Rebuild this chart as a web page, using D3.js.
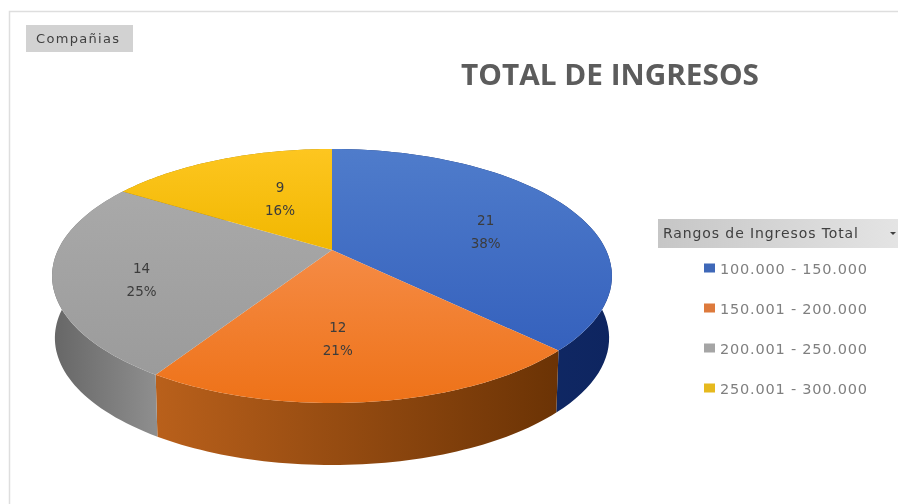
<!DOCTYPE html>
<html><head><meta charset="utf-8">
<script src="https://cdn.jsdelivr.net/npm/d3@7/dist/d3.min.js"></script>
<style>html,body{margin:0;background:#fff;overflow:hidden}svg{display:block;filter:blur(0.7px)}</style>
</head><body><div id="c"></div>
<script>
const categories=["100.000 - 150.000","150.001 - 200.000","200.001 - 250.000","250.001 - 300.000"];
const values=[21,12,14,9];
const percents=["38%","21%","25%","16%"];
const topLight=["#4f7ccb","#f58b45","#a9a9a9","#fdc620"];
const topDark=["#3561bd","#ee7218","#9b9b9b","#f1b700"];
const sideStops=[["#0e2560","#14306e"],["#b9601b","#6b3305"],["#666666","#8e8e8e"],["#a07a00","#a07a00"]];
const legendColors=["#3f68b8","#dd7a3c","#a5a5a5","#e6b91e"];
const title="TOTAL DE INGRESOS",filterLabel="Compañias",legendTitle="Rangos de Ingresos Total";

const W=898,H=504;
const svg=d3.select("#c").append("svg").attr("width",W).attr("height",H);
const defs=svg.append("defs");
svg.append("path").attr("d",`M9.5 ${H}V11.5H${W}`).attr("fill","none").attr("stroke","#dedede").attr("stroke-width",1.5);
const cx=332,cy=250,a=274,b=121.7,k=0.2047,depth=62;
function proj(t,r=1,drop=0){const u=r*Math.sin(t),v=-r*Math.cos(t),d=1-k*v;
  return [cx+a*u/d*(drop?0.99:1),cy+b*v/d+drop];}
const pie=d3.pie().sort(null).value(d=>d)(values);
const line=d3.line();
function arcPts(s,e,drop=0){return d3.range(0,61).map(i=>proj(s+(e-s)*i/60,1,drop));}
const g=svg.append("g");
pie.forEach((p,i)=>{
  const id="w"+i;
  const pts=arcPts(p.startAngle,p.endAngle);
  const lg=defs.append("linearGradient").attr("id",id).attr("gradientUnits","userSpaceOnUse")
    .attr("x1",d3.min(pts,d=>d[0])).attr("x2",d3.max(pts,d=>d[0])).attr("y1",0).attr("y2",0);
  const st=i===0?sideStops[0].slice().reverse():sideStops[i];
  lg.append("stop").attr("offset",0).attr("stop-color",st[0]);
  lg.append("stop").attr("offset",1).attr("stop-color",st[1]);
  g.append("path").attr("d",line(pts.concat(arcPts(p.endAngle,p.startAngle,depth)))+"Z").attr("fill",`url(#${id})`);
});
pie.forEach((p,i)=>{
  const id="t"+i;
  const pts=[[cx,cy]].concat(arcPts(p.startAngle,p.endAngle));
  const lg=defs.append("linearGradient").attr("id",id).attr("gradientUnits","userSpaceOnUse")
    .attr("x1",0).attr("x2",0).attr("y1",d3.min(pts,d=>d[1])).attr("y2",d3.max(pts,d=>d[1]));
  lg.append("stop").attr("offset",0).attr("stop-color",topLight[i]);
  lg.append("stop").attr("offset",1).attr("stop-color",topDark[i]);
  g.append("path").attr("d",line(pts)+"Z").attr("fill",`url(#${id})`);
});
const font="'DejaVu Sans',sans-serif";
// label anchor per slice: shift from the projected mid-angle point at 62% radius
const labelShift=[[4,10],[-16,3],[-20,13],[22,8]];
pie.forEach((p,i)=>{
  const m=(p.startAngle+p.endAngle)/2,[x0,y0]=proj(m,0.62),x=x0+labelShift[i][0],y=y0+labelShift[i][1];
  const t=g.append("text").attr("text-anchor","middle").attr("font-family",font).attr("font-size",13.5).attr("fill","#3c3c3c");
  t.append("tspan").attr("x",x).attr("y",y-7).text(p.value);
  t.append("tspan").attr("x",x).attr("y",y+16).text(percents[i]);
});
svg.append("rect").attr("x",26).attr("y",25).attr("width",107).attr("height",27).attr("fill","#d2d2d2");
svg.append("text").attr("x",36).attr("y",43).attr("font-family",font).attr("font-size",13).attr("fill","#404040").attr("textLength",83).text(filterLabel);
svg.append("text").attr("x",610).attr("y",85).attr("text-anchor","middle").attr("font-family","'Open Sans',sans-serif").attr("font-weight",700)
  .attr("font-size",28).attr("fill","#5c5c5c").attr("textLength",298).attr("lengthAdjust","spacingAndGlyphs").text(title);
const lgh=defs.append("linearGradient").attr("id","lh");
lgh.append("stop").attr("offset",0).attr("stop-color","#c6c6c6");
lgh.append("stop").attr("offset",1).attr("stop-color","#e4e4e4");
svg.append("rect").attr("x",658).attr("y",219).attr("width",240).attr("height",29).attr("fill","url(#lh)");
svg.append("text").attr("x",663).attr("y",238).attr("font-family",font).attr("font-size",14).attr("fill","#404040").attr("textLength",195).text(legendTitle);
svg.append("path").attr("d","M890 232h6l-3 3z").attr("fill","#404040");
const ly=d3.scalePoint().domain(categories).range([268,388]);
categories.forEach((c,i)=>{
  svg.append("rect").attr("x",704).attr("y",ly(c)-4.5).attr("width",11).attr("height",9).attr("fill",legendColors[i]);
  svg.append("text").attr("x",720).attr("y",ly(c)+5.5).attr("font-family",font).attr("font-size",14.5).attr("fill","#7f7f7f").attr("textLength",147).text(c);
});
</script></body></html>
